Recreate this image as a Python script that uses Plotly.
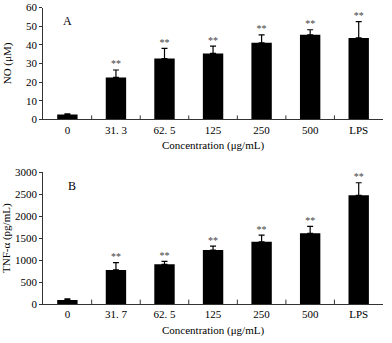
import plotly.graph_objects as go
from plotly.subplots import make_subplots

# data
cats_a = ["0", "31. 3", "62. 5", "125", "250", "500", "LPS"]
no_mean = [2.6, 22.5, 32.6, 35.4, 41.1, 45.4, 43.7]
no_err = [0.4, 4.0, 5.5, 3.9, 4.2, 2.7, 8.8]

cats_b = ["0", "31. 7", "62. 5", "125", "250", "500", "LPS"]
tnf_mean = [97, 780, 907, 1230, 1418, 1612, 2475]
tnf_err = [23, 165, 68, 90, 150, 158, 285]

stars = ["", "**", "**", "**", "**", "**", "**"]

font = dict(family="Liberation Serif, Times New Roman, serif", size=11, color="black")
star_font = dict(family=font["family"], size=10, color="#444")

fig = make_subplots(rows=2, cols=1)

fig.add_trace(go.Bar(x=cats_a, y=no_mean, marker_color="black", marker_line_width=0,
                     error_y=dict(type="data", array=no_err, arrayminus=[0]*7, symmetric=False,
                                  color="black", thickness=1.2, width=3)), row=1, col=1)
fig.add_trace(go.Bar(x=cats_b, y=tnf_mean, marker_color="black", marker_line_width=0,
                     error_y=dict(type="data", array=tnf_err, arrayminus=[0]*7, symmetric=False,
                                  color="black", thickness=1.2, width=3)), row=2, col=1)

# significance stars above error bars
fig.add_trace(go.Scatter(x=cats_a, y=[m + e for m, e in zip(no_mean, no_err)], text=stars,
                         mode="text", textposition="top center", textfont=star_font,
                         hoverinfo="skip"), row=1, col=1)
fig.add_trace(go.Scatter(x=cats_b, y=[m + e for m, e in zip(tnf_mean, tnf_err)], text=stars,
                         mode="text", textposition="top center", textfont=star_font,
                         hoverinfo="skip"), row=2, col=1)

fig.add_annotation(x=0, y=53, text="A", xref="x", yref="y", showarrow=False,
                   font=dict(family=font["family"], size=12, color="black"))
fig.add_annotation(x=0.1, y=2690, text="B", xref="x2", yref="y2", showarrow=False,
                   font=dict(family=font["family"], size=12, color="black"))

axis_common = dict(showline=True, linecolor="#333", linewidth=1, showgrid=False,
                   zeroline=False, tickfont=font, automargin=False,
                   ticklabeloverflow="allow")

fig.update_xaxes(type="category", ticks="", **axis_common)
fig.update_xaxes(categoryorder="array", categoryarray=cats_a, row=1, col=1)
fig.update_xaxes(categoryorder="array", categoryarray=cats_b, row=2, col=1)
fig.update_yaxes(ticks="outside", ticklen=3, tickcolor="#333", **axis_common)

fig.update_layout(
    width=392, height=343,
    margin=dict(l=0, r=0, t=0, b=0),
    paper_bgcolor="white", plot_bgcolor="white",
    showlegend=False, bargap=0.58,
    font=font,
    xaxis=dict(domain=[0.11, 0.977],
               title=dict(text="Concentration (μg/mL)", font=font, standoff=6)),
    yaxis=dict(domain=[0.652, 0.978], range=[0, 60], dtick=10,
               title=dict(text="NO (μM)", font=font, standoff=12)),
    xaxis2=dict(domain=[0.11, 0.977],
                title=dict(text="Concentration (μg/mL)", font=font, standoff=6)),
    yaxis2=dict(domain=[0.113, 0.498], range=[0, 3000], dtick=500,
                title=dict(text="TNF-α (pg/mL)", font=font, standoff=6)),
)

# small inward ticks between categories on the x axes
for xa, ya in [("x", "y"), ("x2", "y2")]:
    for i in range(1, 7):
        fig.add_shape(type="line", x0=i - 0.5, x1=i - 0.5, xref=xa, yref=ya + " domain",
                      y0=0, y1=0.035, line=dict(color="#333", width=1))

fig.write_html("out.html", config={"displayModeBar": False},
               post_script="document.body.style.margin='0';")
